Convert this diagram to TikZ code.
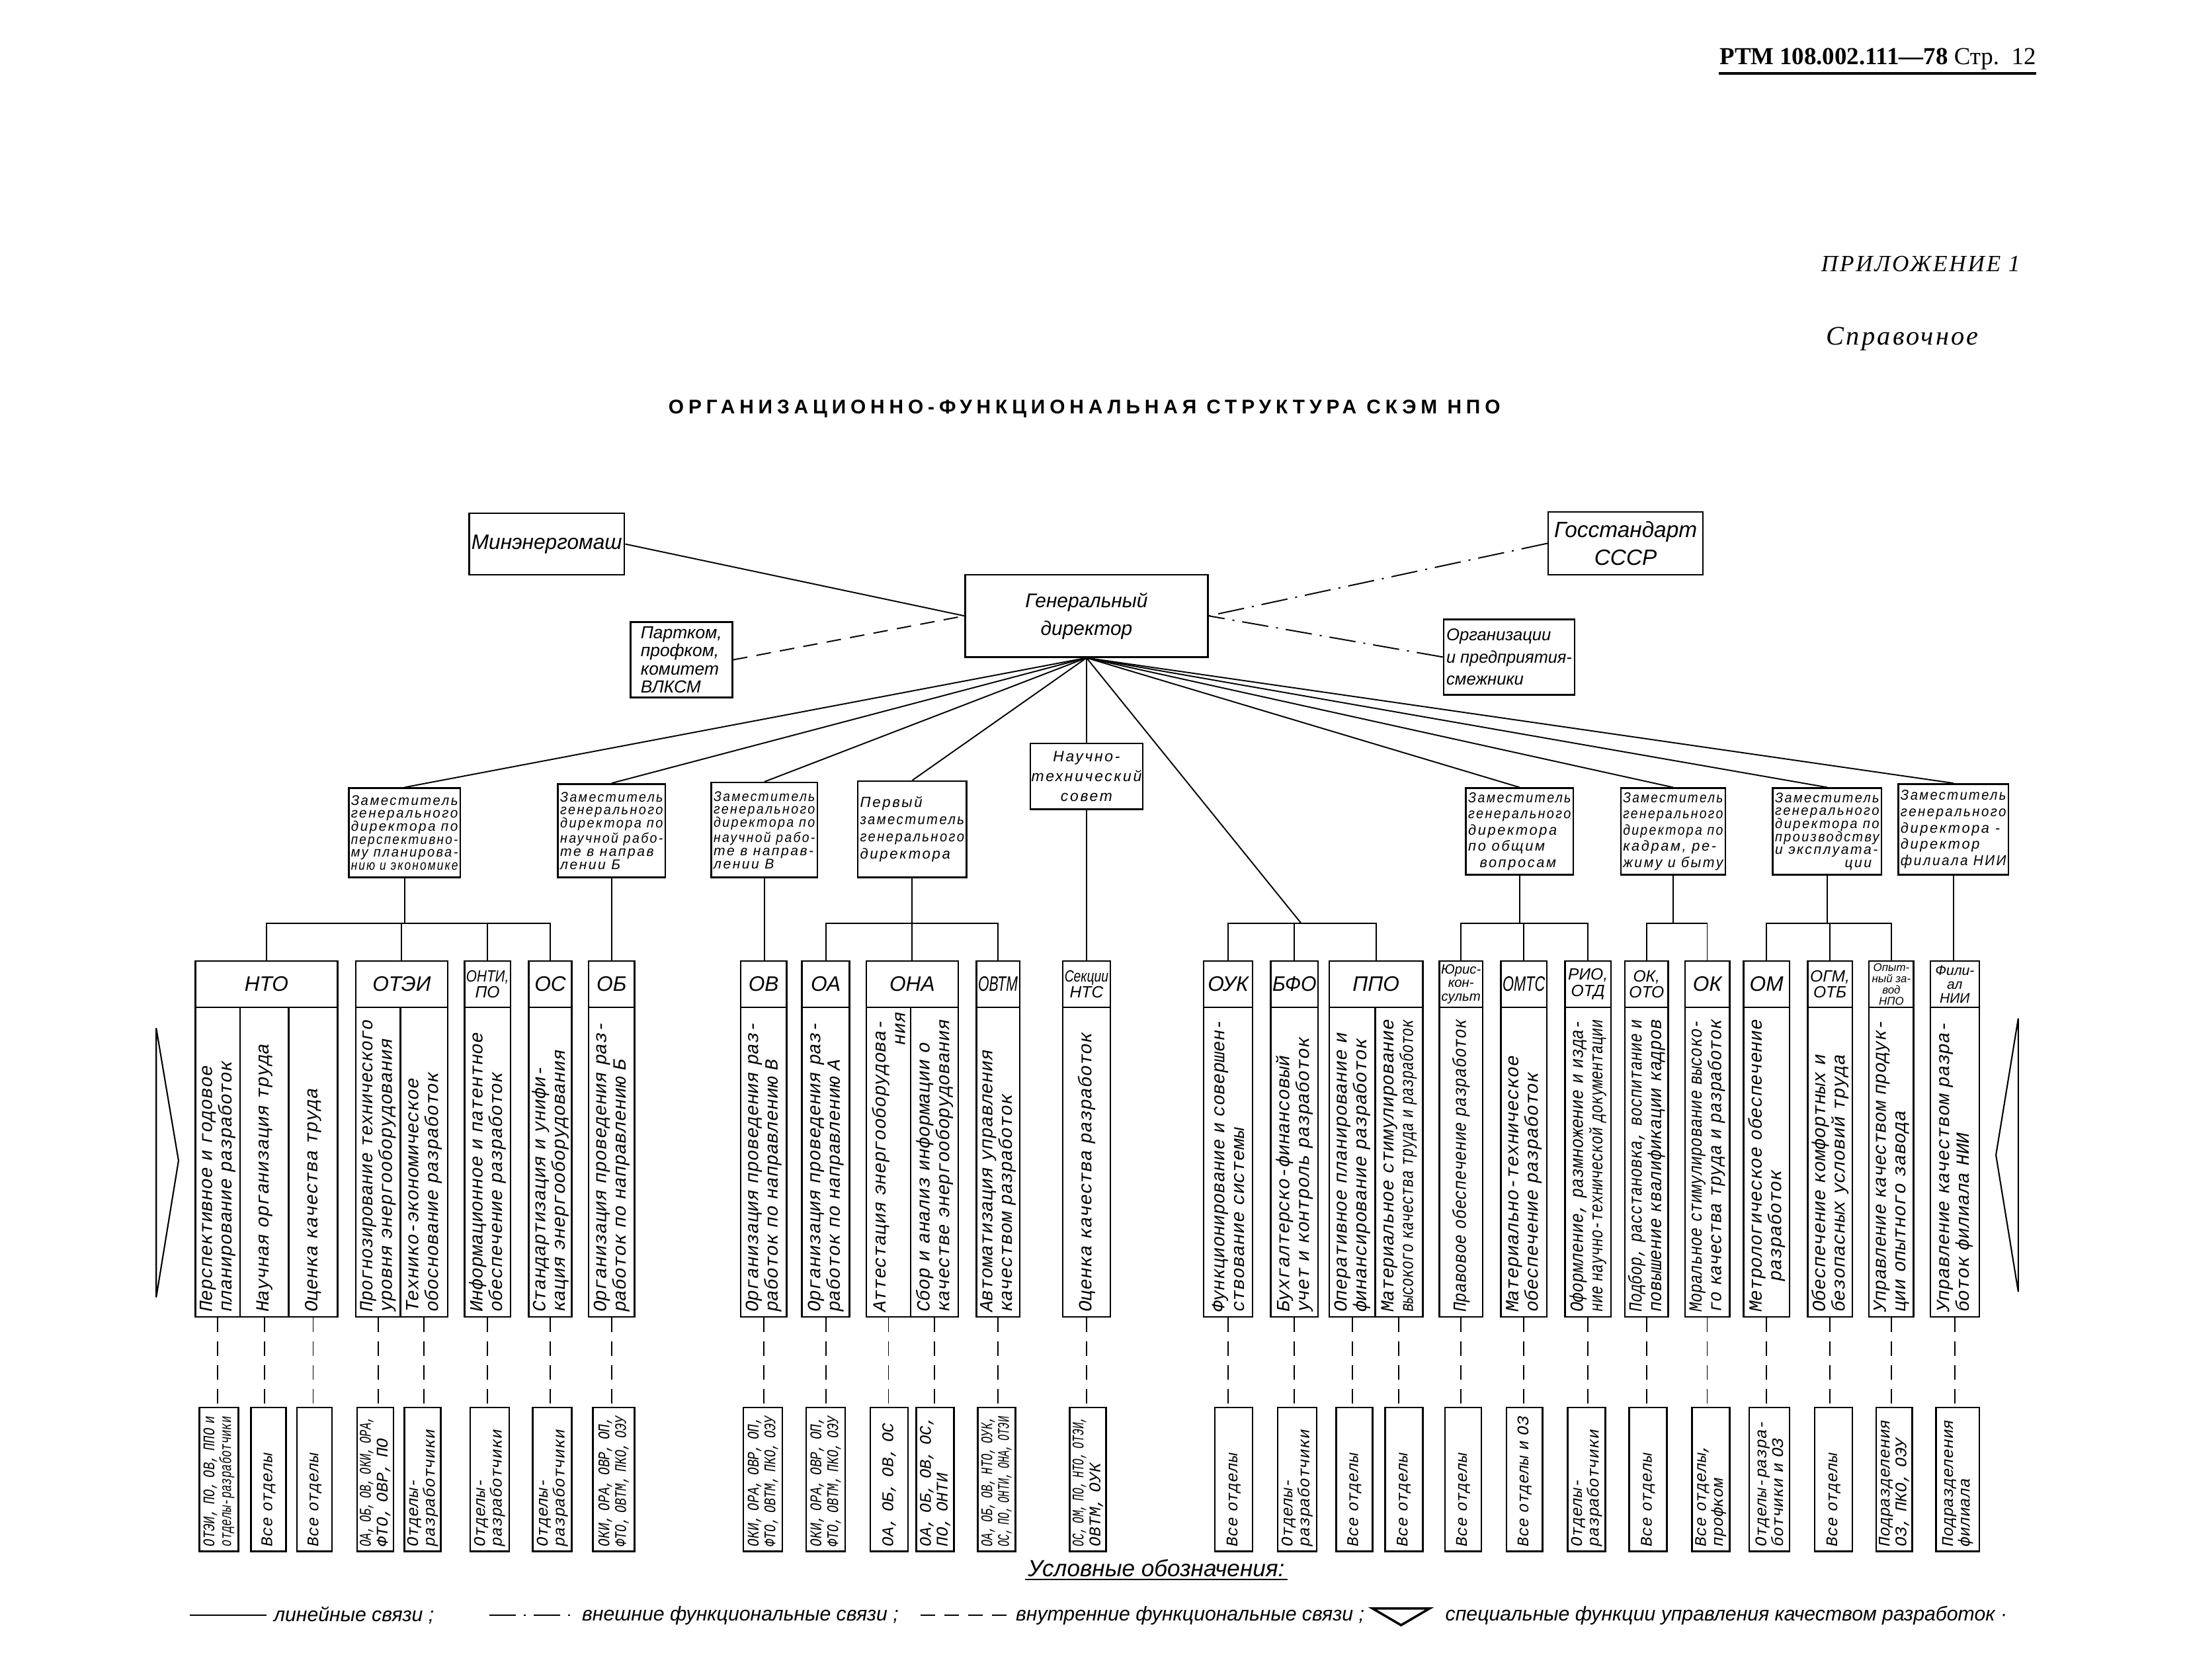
\documentclass[tikz,border=0pt]{standalone}
\usepackage{fontspec}
\usepackage{graphicx}
\setmainfont{Liberation Serif}
\newfontfamily\hand{Liberation Sans}
\newfontfamily\handsp[LetterSpace=12]{Liberation Sans}
\newfontfamily\typew{Liberation Mono}
\newfontfamily\titlef[LetterSpace=23]{Liberation Sans}
\newfontfamily\serifsp[LetterSpace=8]{Liberation Serif}

\def\un{0.6pt}
\newlength\fitw
\newlength\fitmax
\setlength\fitmax{100pt}
% squeeze one line to \fitmax
\newcommand\fitl[1]{\settowidth\fitw{#1}%
  \ifdim\fitw>\fitmax\relax\pgfmathsetmacro\fitf{\fitmax/\fitw}\scalebox{\fitf}[1]{#1}\else#1\fi}

\tikzset{
  fitto/.style={execute at begin node={\pgfmathsetlength\fitmax{#1}\global\fitmax=\fitmax}},
  box/.style={draw, line width=0.7pt, inner sep=1pt, align=center},
  topbox/.style={box, font=\hand\itshape\fontsize{9}{11}\selectfont},
  depbox/.style={box, align=left, inner sep=0.5pt},
  headbox/.style={box, inner sep=0pt, minimum height=33*\un},
  colbox/.style={draw, line width=0.7pt, rotate=90, inner xsep=2pt, inner ysep=0pt,
    minimum width=222*\un, text width=129.2pt, align=left, fitto=126pt,
    font=\typew\itshape\fontsize{8}{8.4}\selectfont},
  botbox/.style={draw, line width=0.7pt, rotate=90, inner xsep=2pt, inner ysep=0pt,
    minimum width=103*\un, text width=57.8pt, align=left, fitto=56pt,
    font=\typew\itshape\fontsize{7}{7.2}\selectfont},
  legtxt/.style={inner sep=3pt, font=\hand\itshape\fontsize{8.6}{10}\selectfont},
  lin/.style={line width=0.55pt},
  ext/.style={line width=0.55pt, dash pattern=on 4mm off 1.2mm on 0.3mm off 1.2mm},
  int/.style={line width=0.55pt, dash pattern=on 2.2mm off 1.4mm},
}

\begin{document}
\begin{tikzpicture}[x=0.6pt, y=-0.6pt]
  \fill[white] (0,0) rectangle (1568,1204);
  \useasboundingbox (0,0) rectangle (1568,1204);

  % Page head
  \node[anchor=base east, inner sep=0pt, font=\fontsize{10.5}{12}\selectfont] (rtm) at (1460,46)
    {\textbf{РТМ 108.002.111—78} Стр.\ \ 12};
  \draw[line width=1.2pt] ([yshift=-4pt]rtm.base west) -- ([yshift=-4pt]rtm.base east);
  \node[font=\serifsp\itshape\fontsize{10}{12}\selectfont] (appx) at (1377,189) {ПРИЛОЖЕНИЕ 1};
  \node[font=\serifsp\itshape\fontsize{11.5}{13}\selectfont] (sprav) at (1364,243) {Справочное};
  \node[font=\titlef\bfseries\fontsize{8.5}{10}\selectfont] (title) at (777.5,293)
    {ОРГАНИЗАЦИОННО-ФУНКЦИОНАЛЬНАЯ СТРУКТУРА СКЭМ НПО};

  % Director and outside bodies
  \node[topbox, minimum width=110*\un, minimum height=44*\un] (minen) at (392,390) {Минэнергомаш};
  \node[topbox, font=\hand\itshape\fontsize{8.5}{12}\selectfont, minimum width=174*\un, minimum height=59*\un]
    (gen) at (779,441.5) {Генеральный\\директор};
  \node[topbox, font=\hand\itshape\fontsize{9.5}{12}\selectfont, minimum width=111*\un, minimum height=45*\un]
    (gost) at (1165.5,389.5) {Госстандарт\\СССР};
  \node[topbox, align=left, inner sep=0.3pt, font=\hand\itshape\fontsize{7.5}{7.8}\selectfont,
    minimum width=73*\un, minimum height=54*\un] (partkom) at (488.5,473)
    {Партком,\\профком,\\комитет\\ВЛКСМ};
  \node[topbox, align=left, fitto=54pt, font=\hand\itshape\fontsize{7.3}{9.5}\selectfont,
    minimum width=94*\un, minimum height=54*\un] (smezh) at (1082,471)
    {\fitl{Организации}\\\fitl{и предприятия-}\\\fitl{смежники}};

  \draw[lin] (minen.east) -- (gen.west);
  \draw[int] (partkom.east) -- (gen.west);
  \draw[ext] (gost.west) -- (gen.east);
  \draw[ext] (smezh.west) -- (gen.east);

  % Deputies
  \foreach \nm/\xl/\xr/\yt/\yb/\fs/\bs/\tx in {
    d1/250/330/565/629/6/5.6/{\fitl{Заместитель}\\\fitl{генерального}\\\fitl{директора по}\\\fitl{перспективно-}\\\fitl{му планирова-}\\\fitl{нию и экономике}},
    d2/400/477/562/629/6/5.6/{\fitl{Заместитель}\\\fitl{генерального}\\\fitl{директора по}\\\fitl{научной рабо-}\\\fitl{те в направ}\\\fitl{лении Б}},
    d3/510/586/561/629/6/5.6/{\fitl{Заместитель}\\\fitl{генерального}\\\fitl{директора по}\\\fitl{научной рабо-}\\\fitl{те в направ-}\\\fitl{лении В}},
    d4/615/693/560/629/6.3/7.4/{\fitl{Первый}\\\fitl{заместитель}\\\fitl{генерального}\\\fitl{директора}},
    d6/1051/1128/565/627/6.2/7/{\fitl{Заместитель}\\\fitl{генерального}\\\fitl{директора}\\\fitl{по общим}\\\fitl{\ \ вопросам}},
    d7/1162/1237/565/627/6.2/7/{\fitl{Заместитель}\\\fitl{генерального}\\\fitl{директора по}\\\fitl{кадрам, ре-}\\\fitl{жиму и быту}},
    d8/1271/1349/565/627/6/5.6/{\fitl{Заместитель}\\\fitl{генерального}\\\fitl{директора по}\\\fitl{производству}\\\fitl{и эксплуата-}\\\hspace*{30pt}\fitl{ции}},
    d9/1361/1440/562/627/6.2/7/{\fitl{Заместитель}\\\fitl{генерального}\\\fitl{директора -}\\\fitl{директор}\\\fitl{филиала НИИ}}}{
    \node[depbox, font=\handsp\itshape\fontsize{\fs}{\bs}\selectfont, fitto={(\xr-\xl)*\un-2pt},
      minimum width={(\xr-\xl)*\un}, minimum height={(\yb-\yt)*\un}]
      (\nm) at ({(\xl+\xr)/2},{(\yt+\yb)/2}) {\tx};
  }
  \node[depbox, align=center, font=\handsp\itshape\fontsize{6.5}{8.5}\selectfont,
    minimum width=77*\un, minimum height=47*\un] (nts) at (779,556.5) {Научно-\\технический\\совет};

  \coordinate (jOUK) at (933,662);
  \foreach \dn in {d1,d2,d3,d4,nts,d6,d7,d8,d9}
    \draw[lin] (gen.south) -- (\dn.north);
  \draw[lin] (gen.south) -- (jOUK);

  % Department heads
  \foreach \nm/\xl/\xr/\fs/\tx in {
    hNTO/140/242/9/{\fitl{НТО}}, hOTEI/255/321/9/{\fitl{ОТЭИ}}, hONTI/333/366/7/{\fitl{ОНТИ,}\\\fitl{ПО}},
    hOS/379/410/9/{\fitl{ОС}}, hOB/422/455/9/{\fitl{ОБ}}, hOV/531/564/9/{\fitl{ОВ}}, hOA/575/609/9/{\fitl{ОА}},
    hONA/621/687/9/{\fitl{ОНА}}, hOVTM/700/731/9/{\fitl{ОВТМ}}, hNTS/762/796/7/{\fitl{Секции}\\\fitl{НТС}},
    hOUK/863/898/9/{\fitl{ОУК}}, hBFO/911/945/9/{\fitl{БФО}}, hPPO/953/1020/9/{\fitl{ППО}},
    hJUR/1032/1063/5.8/{\fitl{Юрис-}\\\fitl{кон-}\\\fitl{сульт}}, hOMTS/1076/1109/9/{\fitl{ОМТС}},
    hRIO/1122/1155/7/{\fitl{РИО,}\\\fitl{ОТД}}, hOKO/1165/1196/7/{\fitl{ОК,}\\\fitl{ОТО}}, hOK/1208/1240/9/{\fitl{ОК}},
    hOM/1250/1283/9/{\fitl{ОМ}}, hOGM/1296/1328/7/{\fitl{ОГМ,}\\\fitl{ОТБ}},
    hOZ/1340/1372/4.8/{\fitl{Опыт-}\\\fitl{ный за-}\\\fitl{вод}\\\fitl{НПО}},
    hFIL/1384/1419/6/{\fitl{Фили-}\\\fitl{ал}\\\fitl{НИИ}}}{
    \node[headbox, font=\hand\itshape\fontsize{\fs}{\fs}\selectfont, fitto={(\xr-\xl)*\un-1.5pt},
      minimum width={(\xr-\xl)*\un}] (\nm) at ({(\xl+\xr)/2},705.5) {\tx};
  }

  % Lines from deputies to departments
  \coordinate (busy) at (0,662);
  \foreach \dn/\ha/\hb in {d1/hNTO/hOS, d4/hOA/hOVTM, d6/hJUR/hRIO, d7/hOKO/hOK, d8/hOM/hOZ}{
    \draw[lin] (\ha.north) |- (\hb.north |- busy) -- (\hb.north);
    \draw[lin] (\dn.south) -- (\dn.south |- busy);
  }
  \draw[lin] (hOUK.north) |- (hPPO.north |- busy) -- (hPPO.north);
  \foreach \ha in {hOTEI, hONTI, hONA, hBFO, hOMTS, hOGM}
    \draw[lin] (\ha.north) -- (\ha.north |- busy);
  \foreach \dn/\ha in {d2/hOB, d3/hOV, nts/hNTS, d9/hFIL}
    \draw[lin] (\dn.south) -- (\dn.south |- \ha.north);

  % Functions of the departments
  \foreach \nm/\xl/\xr/\tx in {
    cNTOa/140/172/{\fitl{Перспективное и годовое}\\\fitl{планирование разработок}},
    cNTOb/172/207/{\fitl{Научная организация труда}},
    cNTOc/207/242/{\fitl{Оценка качества труда}},
    cOTEIa/255/287/{\fitl{Прогнозирование технического}\\\fitl{уровня энергооборудования}},
    cOTEIb/287/321/{\fitl{Технико-экономическое}\\\fitl{обоснование разработок}},
    cONTI/333/366/{\fitl{Информационное и патентное}\\\fitl{обеспечение разработок}},
    cOS/379/410/{\fitl{Стандартизация и унифи-}\\\fitl{кация энергооборудования}},
    cOB/422/455/{\fitl{Организация проведения раз-}\\\fitl{работок по направлению Б}},
    cOV/531/564/{\fitl{Организация проведения раз-}\\\fitl{работок по направлению В}},
    cOA/575/609/{\fitl{Организация проведения раз-}\\\fitl{работок по направлению А}},
    cONAa/621/653/{\fitl{Аттестация энергооборудова-}\\\hspace*{\fill}\fitl{ния}},
    cONAb/653/687/{\fitl{Сбор и анализ информации о}\\\fitl{качестве энергооборудования}},
    cOVTM/700/731/{\fitl{Автоматизация управления}\\\fitl{качеством разработок}},
    cNTS/762/796/{\fitl{Оценка качества разработок}},
    cOUK/863/898/{\fitl{Функционирование и совершен-}\\\fitl{ствование системы}},
    cBFO/911/945/{\fitl{Бухгалтерско-финансовый}\\\fitl{учет и контроль разработок}},
    cPPOa/953/986/{\fitl{Оперативное планирование и}\\\fitl{финансирование разработок}},
    cPPOb/986/1020/{\fitl{Материальное стимулирование}\\\fitl{высокого качества труда и разработок}},
    cJUR/1032/1063/{\fitl{Правовое обеспечение разработок}},
    cOMTS/1076/1109/{\fitl{Материально-техническое}\\\fitl{обеспечение разработок}},
    cRIO/1122/1155/{\fitl{Оформление, размножение и изда-}\\\fitl{ние научно-технической документации}},
    cOKO/1165/1196/{\fitl{Подбор, расстановка, воспитание и}\\\fitl{повышение квалификации кадров}},
    cOK/1208/1240/{\fitl{Моральное стимулирование высоко-}\\\fitl{го качества труда и разработок}},
    cOM/1250/1283/{\fitl{Метрологическое обеспечение}\\\fitl{\ \ \ \ \ разработок}},
    cOGM/1296/1328/{\fitl{Обеспечение комфортных и}\\\fitl{безопасных условий труда}},
    cOZ/1340/1372/{\fitl{Управление качеством продук-}\\\fitl{ции опытного завода}},
    cFIL/1384/1419/{\fitl{Управление качеством разра-}\\\fitl{боток филиала НИИ}}}{
    \node[colbox, minimum height={(\xr-\xl)*\un}] (\nm) at ({(\xl+\xr)/2},833) {\tx};
  }

  % Who the functions reach
  \foreach \nm/\xl/\xr/\cl/\tx in {
    u1/143/171/cNTOa/{\fitl{ОТЭИ, ПО, ОВ, ППО и}\\\fitl{отделы-разработчики}},
    u2/180/205/cNTOb/{\fitl{Все отделы}},
    u3/213/238/cNTOc/{\fitl{Все отделы}},
    u4/256/282/cOTEIa/{\fitl{ОА, ОБ, ОВ, ОКИ, ОРА,}\\\fitl{ФТО, ОВР, ПО}},
    u5/290/316/cOTEIb/{\fitl{Отделы-}\\\fitl{разработчики}},
    u6/337/365/cONTI/{\fitl{Отделы-}\\\fitl{разработчики}},
    u7/382/410/cOS/{\fitl{Отделы-}\\\fitl{разработчики}},
    u8/425/455/cOB/{\fitl{ОКИ, ОРА, ОВР, ОП,}\\\fitl{ФТО, ОВТМ, ПКО, ОЭУ}},
    u9/533/561/cOV/{\fitl{ОКИ, ОРА, ОВР, ОП,}\\\fitl{ФТО, ОВТМ, ПКО, ОЭУ}},
    u10/578/606/cOA/{\fitl{ОКИ, ОРА, ОВР, ОП,}\\\fitl{ФТО, ОВТМ, ПКО, ОЭУ}},
    u11/624/651/cONAa/{\fitl{ОА, ОБ, ОВ, ОС}},
    u12/657/684/cONAb/{\fitl{ОА, ОБ, ОВ, ОС,}\\\fitl{ПО, ОНТИ}},
    u13/701/728/cOVTM/{\fitl{ОА, ОБ, ОВ, НТО, ОУК,}\\\fitl{ОС, ПО, ОНТИ, ОНА, ОТЭИ}},
    u14/767/793/cNTS/{\fitl{ОС, ОМ, ПО, НТО, ОТЭИ,}\\\fitl{ОВТМ, ОУК}},
    u15/871/898/cOUK/{\fitl{Все отделы}},
    u16/916/944/cBFO/{\fitl{Отделы-}\\\fitl{разработчики}},
    u17/958/984/cPPOa/{\fitl{Все отделы}},
    u18/993/1020/cPPOb/{\fitl{Все отделы}},
    u19/1036/1062/cJUR/{\fitl{Все отделы}},
    u20/1080/1106/cOMTS/{\fitl{Все отделы и ОЗ}},
    u21/1124/1151/cRIO/{\fitl{Отделы-}\\\fitl{разработчики}},
    u22/1168/1195/cOKO/{\fitl{Все отделы}},
    u23/1213/1240/cOK/{\fitl{Все отделы,}\\\fitl{профком}},
    u24/1254/1283/cOM/{\fitl{Отделы-разра-}\\\fitl{ботчики и ОЗ}},
    u25/1301/1328/cOGM/{\fitl{Все отделы}},
    u26/1345/1371/cOZ/{\fitl{Подразделения}\\\fitl{ОЗ, ПКО, ОЭУ}},
    u27/1388/1419/cFIL/{\fitl{Подразделения}\\\fitl{филиала}}}{
    \node[botbox, minimum height={(\xr-\xl)*\un}] (\nm) at ({(\xl+\xr)/2},1060.5) {\tx};
    \draw[int] (\cl.west) -- (\cl.west |- \nm.east);
  }

  % Quality management marks
  \draw[line width=0.6pt] (112,737) -- (128,832) -- (112,930) -- cycle;
  \draw[line width=0.6pt] (1447,730) -- (1431,828) -- (1447,926) -- cycle;

  % Legend
  \node[legtxt, inner sep=1pt, font=\hand\itshape\fontsize{10}{12}\selectfont] (legh) at (829,1124) {Условные обозначения:};
  \draw[line width=0.8pt] (legh.south west) -- (legh.south east);
  \coordinate (lg1s) at (136,1158);
  \node[legtxt, anchor=west] (lg1) at (191,1158) {линейные связи ;};
  \draw[lin] (lg1s) -- (lg1.west);
  \coordinate (lg2s) at (351,1158);
  \node[legtxt, anchor=west] (lg2) at (412,1158) {внешние функциональные связи ;};
  \draw[ext] (lg2s) -- (lg2.west);
  \coordinate (lg3s) at (660,1158);
  \node[legtxt, anchor=west] (lg3) at (723,1158) {внутренние функциональные связи ;};
  \draw[int] (lg3s) -- (lg3.west);
  \draw[line width=1pt] (984,1153) -- (1025,1153) -- (1004.5,1165) -- cycle;
  \node[legtxt, anchor=west] (lg4) at (1031,1158) {специальные функции управления качеством разработок ·};
\end{tikzpicture}
\end{document}
